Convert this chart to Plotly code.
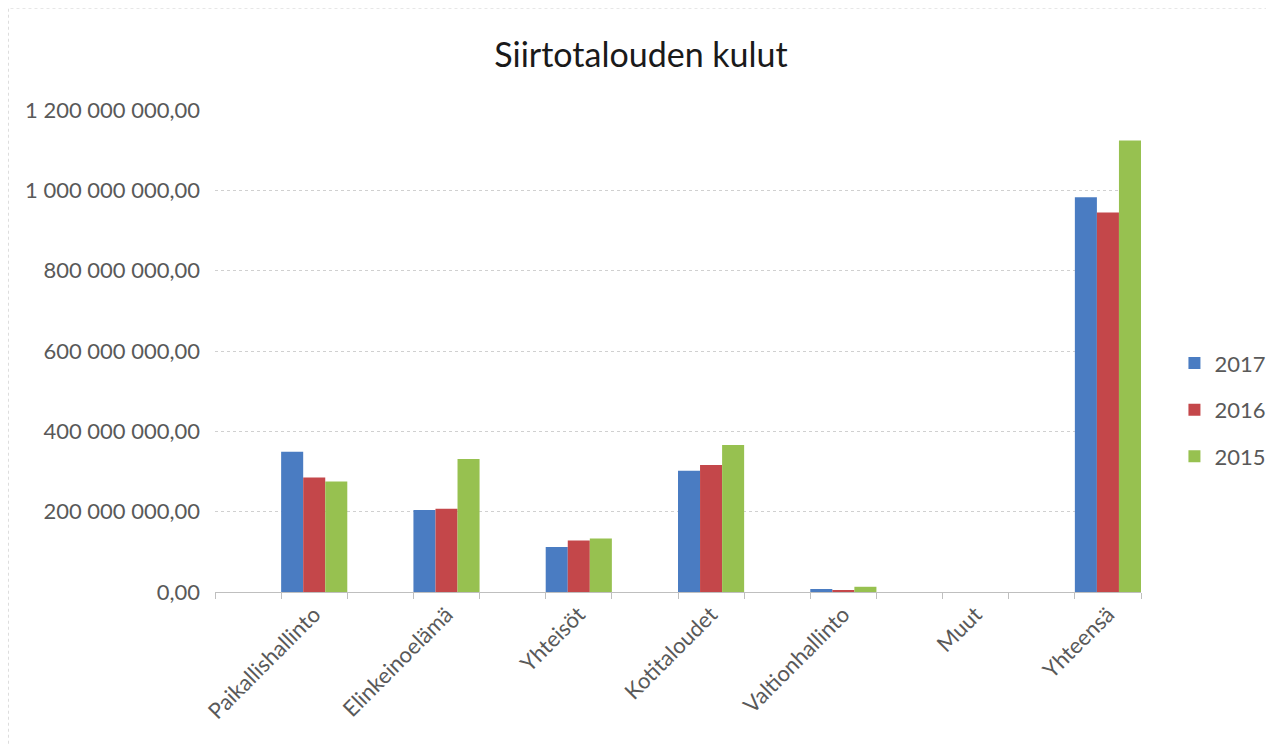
import plotly.graph_objects as go

categories = ["Paikallishallinto", "Elinkeinoelämä", "Yhteisöt", "Kotitaloudet",
              "Valtionhallinto", "Muut", "Yhteensä"]
years = ["2017", "2016", "2015"]
values_2017 = [349e6, 204e6, 112e6, 302e6, 7.5e6, 0, 983e6]
values_2016 = [285e6, 207e6, 128e6, 316e6, 5e6, 0, 945e6]
values_2015 = [275e6, 331e6, 133e6, 366e6, 13e6, 0, 1124e6]
colors = ["#4A7CC2", "#C4474A", "#97C150"]

FONT = "Lato"
GREY = "#595959"


def add_bars(fig: go.Figure) -> go.Figure:
    series = [values_2017, values_2016, values_2015]
    for i, (name, vals) in enumerate(zip(years, series)):
        fig.add_trace(
            go.Bar(
                x=categories,
                y=vals,
                name=name,
                marker=dict(color=colors[i], line=dict(width=0)),
                legendgroup=name,
            )
        )
    # empty trace so the tick-mark axis gets drawn
    fig.add_trace(
        go.Scatter(x=[None], y=[None], xaxis="x2", showlegend=False, hoverinfo="skip")
    )
    return fig


def update_layout(fig: go.Figure) -> go.Figure:
    fig.update_layout(
        width=1274,
        height=744,
        margin=dict(l=207, r=140, t=102, b=160),
        paper_bgcolor="white",
        plot_bgcolor="white",
        separators=", ",
        barmode="group",
        bargap=0.5,
        bargroupgap=0,
        font=dict(family=FONT, color=GREY, size=22),
        title=dict(
            text="Siirtotalouden kulut",
            x=633 / 1274,
            xanchor="center",
            y=1 - 47 / 744,
            yanchor="middle",
            font=dict(family=FONT, size=34, color="#1a1a1a"),
        ),
        legend=dict(
            x=1.035,
            xanchor="left",
            y=0.378,
            yanchor="middle",
            tracegroupgap=15,
            font=dict(size=22, color=GREY),
            bgcolor="rgba(0,0,0,0)",
        ),
        xaxis2=dict(
            overlaying="x",
            anchor="y",
            range=[-0.75, 6.25],
            tick0=-0.25,
            dtick=0.5,
            ticks="outside",
            ticklen=6,
            tickcolor="#bfbfbf",
            showticklabels=False,
            showgrid=False,
            zeroline=False,
        ),
    )
    fig.layout.xaxis.update(
        type="category",
        range=[-0.75, 6.25],
        tickangle=-45,
        ticks="",
        showline=True,
        linecolor="#bfbfbf",
        linewidth=1,
        showgrid=False,
        tickfont=dict(size=22, color=GREY),
    )
    fig.update_yaxes(
        range=[0, 1.2e9],
        dtick=2e8,
        tickformat=",.2f",
        showgrid=True,
        gridcolor="#d0d0d0",
        griddash="dot",
        zeroline=False,
        showline=False,
        ticks="",
        ticklabelstandoff=14,
        tickfont=dict(size=22, color=GREY),
    )
    # chart area border (right and bottom edges fall outside the view)
    fig.add_shape(
        type="rect",
        xref="paper",
        yref="paper",
        x0=(8 - 215) / 927,
        x1=(1279 - 215) / 927,
        y0=(592 - 750) / 482,
        y1=(592 - 8) / 482,
        line=dict(color="#d0d0d0", width=1, dash="dot"),
        layer="below",
    )
    return fig


fig = go.Figure()
fig = add_bars(fig)
fig = update_layout(fig)
fig.write_html("out.html")
